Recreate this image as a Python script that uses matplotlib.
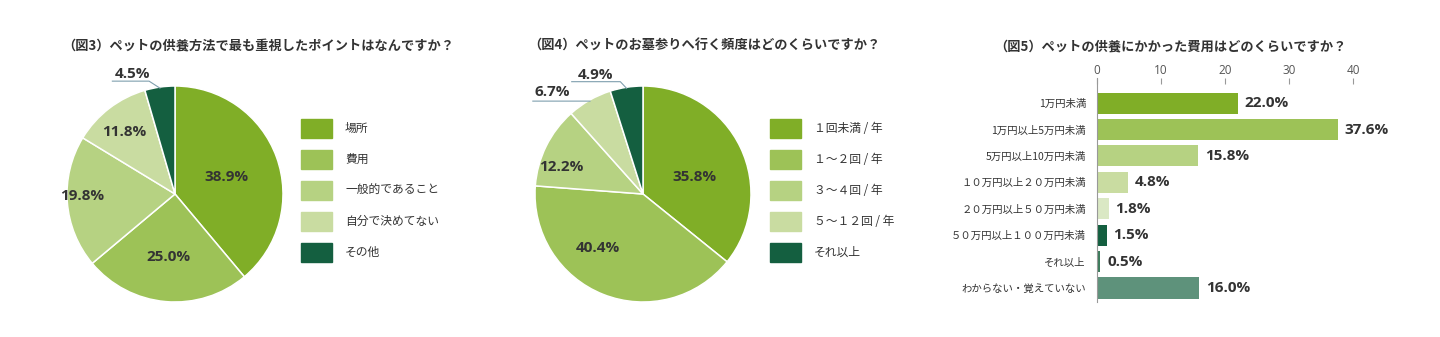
import numpy as np
import matplotlib
matplotlib.use("Agg")
import matplotlib.pyplot as plt
from matplotlib.patches import Rectangle

plt.rcParams['font.family'] = ['Noto Sans CJK JP', 'DejaVu Sans']

W, H = 1440, 337

# --- data ---
pie3_labels = ["場所", "費用", "一般的であること", "自分で決めてない", "その他"]
pie3_values = [38.9, 25.0, 19.8, 11.8, 4.5]

pie4_labels = ["１回未満 / 年", "１～２回 / 年", "３～４回 / 年", "５～１２回 / 年", "それ以上"]
pie4_values = [35.8, 40.4, 12.2, 6.7, 4.9]

bar_labels = ["1万円未満", "1万円以上5万円未満", "5万円以上10万円未満",
              "１０万円以上２０万円未満", "２０万円以上５０万円未満",
              "５０万円以上１００万円未満", "それ以上", "わからない・覚えていない"]
bar_values = [22.0, 37.6, 15.8, 4.8, 1.8, 1.5, 0.5, 16.0]
bar_ticks = [0, 10, 20, 30, 40]

pie_colors = ["#80ae27", "#9dc257", "#b6d282", "#c9dca1", "#145f40"]
bar_colors = ["#80ae27", "#9dc257", "#b6d282", "#c9dca1", "#dae8c4",
              "#145f40", "#3d7c5c", "#5e927b"]
txt = "#333333"
lead = "#7f9fae"
num_font = ['Open Sans', 'Noto Sans CJK JP']


def rect(x, y, w, h):
    # pixel box (top-left origin) -> figure fraction
    return [x / W, 1 - (y + h) / H, w / W, h / H]


fig = plt.figure(figsize=(W / 100, H / 100), dpi=100)


def draw_pie(cx, cy, r, values, labels, inside_pos, outside, legend_x, title_x, title):
    span = r * 1.3
    ax = fig.add_axes(rect(cx - span, cy - span, 2 * span, 2 * span))
    ax.pie(values, colors=pie_colors, startangle=90, counterclock=False,
           wedgeprops=dict(edgecolor="white", linewidth=1.1))
    ax.set_xlim(-1.3, 1.3)
    ax.set_ylim(-1.3, 1.3)
    ax.set_aspect("equal")

    for v, (dx, dy) in zip(values, inside_pos):
        ax.text(dx, dy, f"{v:.1f}%", ha="center", va="center", family=num_font,
                fontsize=11, fontweight="bold", color=txt)

    # small slices get a label outside with a leader line
    cum = np.cumsum([0] + list(values))
    for idx, (tx, ty, x0, x1, uy) in outside.items():
        mid = 90 - 360 * (cum[idx] + values[idx] / 2) / 100
        ex, ey = np.cos(np.radians(mid)), np.sin(np.radians(mid))
        ax.plot([x0, x1, ex * 0.99], [uy, uy, ey * 0.99], color=lead, lw=0.8,
                clip_on=False)
        ax.text(tx, ty, f"{values[idx]:.1f}%", ha="center", va="center",
                family=num_font, fontsize=11, fontweight="bold", color=txt)

    for i, lab in enumerate(labels):
        y = 119 + i * 31
        fig.add_artist(Rectangle((legend_x / W, 1 - (y + 19) / H), 31 / W, 19 / H,
                                 transform=fig.transFigure, color=pie_colors[i]))
        fig.text((legend_x + 44) / W, 1 - (y + 9.5) / H, lab, fontsize=8.5,
                 color=txt, va="center", ha="left")

    fig.text(title_x / W, 1 - 46 / H, title, fontsize=9.5, fontweight="bold",
             color=txt, va="center", ha="left")


draw_pie(175, 194, 108, pie3_values, pie3_labels,
         [(0.48, 0.16), (-0.06, -0.58), (-0.86, -0.02), (-0.47, 0.57)],
         {4: (-0.39, 1.11, -0.58, -0.24, 1.045)},
         301, 62, "（図3）ペットの供養方法で最も重視したポイントはなんですか？")

draw_pie(643, 194, 108, pie4_values, pie4_labels,
         [(0.48, 0.16), (-0.42, -0.50), (-0.76, 0.25)],
         {3: (-0.84, 0.94, -1.02, -0.58, 0.86),
          4: (-0.44, 1.10, -0.66, -0.21, 1.04)},
         770, 528, "（図4）ペットのお墓参りへ行く頻度はどのくらいですか？")

# --- bar chart ---
bx = fig.add_axes(rect(1097, 78, 256, 224))
ypos = np.arange(len(bar_values))
bx.barh(ypos, bar_values, height=0.8, color=bar_colors)
bx.set_xlim(0, 40)
bx.set_ylim(7.53, -0.95)
bx.set_yticks(ypos)
bx.set_yticklabels(bar_labels, fontsize=7.5, color=txt)
bx.tick_params(axis="y", length=0, pad=8)
bx.xaxis.tick_top()
bx.set_xticks(bar_ticks)
bx.set_xticklabels([str(t) for t in bar_ticks], fontsize=8.5, color="#555555",
                   family=num_font)
bx.tick_params(axis="x", direction="in", length=4, color="#999999", pad=1)
for s in ["top", "right", "bottom"]:
    bx.spines[s].set_visible(False)
bx.spines["left"].set_color("#999999")
bx.spines["left"].set_linewidth(0.8)
for y, v in zip(ypos, bar_values):
    bx.annotate(f"{v:.1f}%", (v, y), xytext=(5, 0), textcoords="offset points",
                ha="left", va="center", family=num_font, fontsize=11,
                fontweight="bold", color=txt, annotation_clip=False)

fig.text(994 / W, 1 - 46 / H, "（図5）ペットの供養にかかった費用はどのくらいですか？",
         fontsize=9.5, fontweight="bold", color=txt, va="center", ha="left")

fig.savefig("out.png", dpi=100, facecolor="white")
